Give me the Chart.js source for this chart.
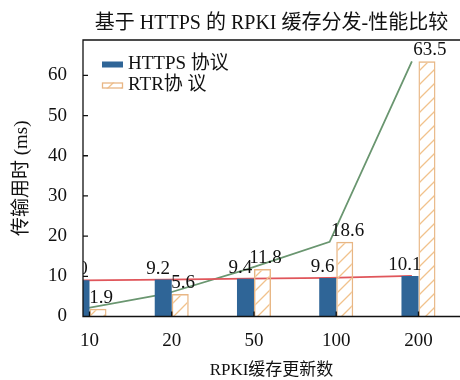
<!DOCTYPE html>
<html>
<head>
<meta charset="utf-8">
<script src="https://cdn.jsdelivr.net/npm/chart.js@4.4.1/dist/chart.umd.min.js"></script>
<style>
  html, body { margin: 0; padding: 0; background: #fff; }
  canvas { display: block; }
</style>
</head>
<body>
<canvas id="c" width="460" height="380"></canvas>
<script>
// Transfer time of RPKI cache updates, HTTPS vs RTR
const CATEGORIES = ['10', '20', '50', '100', '200'];
const HTTPS_MS = [9.0, 9.2, 9.4, 9.6, 10.1];
const RTR_MS = [1.9, 5.6, 11.8, 18.6, 63.5];
const Y_TICKS = [0, 10, 20, 30, 40, 50, 60];
const SERIES_NAMES = ['HTTPS 协议', 'RTR协 议'];

const FONT = "'Liberation Serif', 'Noto Sans CJK SC', serif";
const X_MIN = -0.079, X_MAX = 4.505, Y_MAX = 68.8;
const BAR_W = 17;
const BAR_HALF = 0.1034;          // half a bar width in category units: HTTPS left of the tick, RTR right
const LINE_SHIFT = 0.08;          // trend lines sit slightly left of the tick
const BLUE = '#2f6597';
const ORANGE = '#e8b684';
const RED = '#e0565b';
const GREEN = '#6a9670';

const canvas = document.getElementById('c');
const mainCtx = canvas.getContext('2d');

function makeHatch() {
  const s = 14;
  const tile = document.createElement('canvas');
  tile.width = s; tile.height = s;
  const g = tile.getContext('2d');
  g.strokeStyle = '#f1c28c';
  g.lineWidth = 1.3;
  g.beginPath();
  g.moveTo(0, s); g.lineTo(s, 0);
  g.moveTo(-2, 2); g.lineTo(2, -2);
  g.moveTo(s - 2, s + 2); g.lineTo(s + 2, s - 2);
  g.stroke();
  return mainCtx.createPattern(tile, 'repeat');
}
const HATCH = makeHatch();

const toPoints = arr => arr.map((v, i) => ({ x: i, y: v }));

// hidden index axis sharing the visible x range, moved by `shift` category units
const shiftedAxis = shift => ({
  type: 'linear',
  display: false,
  offset: false,
  min: X_MIN - shift,
  max: X_MAX - shift
});

// plot frame plus short inward tick marks
const frame = {
  id: 'frame',
  afterDraw(chart) {
    const { ctx, chartArea: a, scales } = chart;
    ctx.save();
    ctx.strokeStyle = '#111';
    ctx.lineWidth = 1.3;
    ctx.beginPath();
    ctx.moveTo(a.right + 2, a.top); ctx.lineTo(a.left, a.top);
    ctx.lineTo(a.left, a.bottom); ctx.lineTo(a.right + 2, a.bottom);
    Y_TICKS.forEach(v => {
      const y = scales.y.getPixelForValue(v);
      ctx.moveTo(a.left, y); ctx.lineTo(a.left + 5, y);
    });
    CATEGORIES.forEach((_, i) => {
      const x = scales.x.getPixelForValue(i);
      ctx.moveTo(x, a.bottom); ctx.lineTo(x, a.bottom - 5);
    });
    ctx.stroke();
    ctx.restore();
  }
};

// value labels above each bar
const valueLabels = {
  id: 'valueLabels',
  afterDatasetsDraw(chart) {
    const { ctx, chartArea: a } = chart;
    ctx.save();
    ctx.beginPath();
    ctx.rect(a.left, 0, a.right - a.left, chart.height);
    ctx.clip();
    ctx.font = '19px ' + FONT;
    ctx.fillStyle = '#111';
    ctx.textAlign = 'center';
    ctx.textBaseline = 'alphabetic';
    chart.data.datasets.forEach((ds, di) => {
      if (ds.type === 'line') return;
      const meta = chart.getDatasetMeta(di);
      meta.data.forEach((el, i) => {
        const v = ds.data[i].y;
        ctx.fillText(v.toFixed(1), el.x + ds.labelShift, el.y - 6);
      });
    });
    ctx.restore();
  }
};

// legend drawn inside the plot, upper left
const legendBox = {
  id: 'legendBox',
  afterDraw(chart) {
    const { ctx, chartArea: a } = chart;
    ctx.save();
    ctx.font = '19px ' + FONT;
    ctx.fillStyle = '#111';
    ctx.textBaseline = 'middle';
    ctx.textAlign = 'left';
    let row = 0;
    chart.data.datasets.forEach(ds => {
      if (ds.type === 'line') return;
      const cy = a.top + 24.5 + row * 21;
      const sx = a.left + 19;
      if (ds.borderWidth > 0) {
        ctx.fillStyle = '#fff';
        ctx.fillRect(sx, cy - 3, 21, 6);
        ctx.fillStyle = HATCH;
        ctx.fillRect(sx, cy - 3, 21, 6);
        ctx.strokeStyle = ds.borderColor;
        ctx.lineWidth = 1.3;
        ctx.strokeRect(sx + 0.5, cy - 2.5, 20, 5);
      } else {
        ctx.fillStyle = ds.backgroundColor;
        ctx.fillRect(sx, cy - 3, 21, 6);
      }
      ctx.fillStyle = '#111';
      ctx.fillText(ds.label, sx + 26, cy - 0.5);
      row++;
    });
    ctx.restore();
  }
};

new Chart(canvas, {
  type: 'bar',
  data: {
    datasets: [
      {
        label: SERIES_NAMES[0],
        data: toPoints(HTTPS_MS),
        xAxisID: 'xh',
        grouped: false,
        backgroundColor: BLUE,
        borderWidth: 0,
        maxBarThickness: BAR_W,
        clip: 0,
        order: 1,
        labelShift: -5
      },
      {
        label: SERIES_NAMES[1],
        data: toPoints(RTR_MS),
        xAxisID: 'xr',
        grouped: false,
        backgroundColor: HATCH,
        borderColor: ORANGE,
        borderWidth: 1.4,
        maxBarThickness: BAR_W,
        clip: 0,
        order: 1,
        labelShift: 3
      },
      {
        type: 'line',
        label: 'HTTPS',
        data: toPoints(HTTPS_MS),
        xAxisID: 'xl',
        borderColor: RED,
        borderWidth: 1.8,
        pointRadius: 0,
        tension: 0,
        fill: false,
        clip: 0,
        order: 2
      },
      {
        type: 'line',
        label: 'RTR',
        data: toPoints(RTR_MS),
        xAxisID: 'xl',
        borderColor: GREEN,
        borderWidth: 1.8,
        pointRadius: 0,
        tension: 0,
        fill: false,
        clip: 0,
        order: 2
      }
    ]
  },
  options: {
    responsive: false,
    animation: false,
    events: [],
    layout: { padding: 0 },
    plugins: {
      legend: { display: false },
      tooltip: { enabled: false },
      title: {
        display: true,
        fullSize: false,
        text: '基于 HTTPS 的 RPKI 缓存分发-性能比较',
        color: '#111',
        font: { family: FONT, size: 20, weight: 'normal', lineHeight: 1.2 },
        padding: { top: 12, bottom: 4 }
      }
    },
    scales: {
      x: {
        type: 'linear',
        offset: false,
        min: X_MIN,
        max: X_MAX,
        grid: { display: false, drawTicks: false, offset: false },
        border: { display: false },
        afterBuildTicks: s => { s.ticks = CATEGORIES.map((_, i) => ({ value: i })); },
        afterFit: s => { s.height = 63.5; },
        ticks: {
          autoSkip: false,
          maxRotation: 0,
          padding: 13,
          color: '#111',
          font: { family: FONT, size: 19 },
          callback: (v, i) => CATEGORIES[i]
        },
        title: {
          display: true,
          text: 'RPKI缓存更新数',
          color: '#111',
          font: { family: FONT, size: 17, lineHeight: 1 },
          padding: { top: 0, bottom: 1 }
        }
      },
      xh: shiftedAxis(-BAR_HALF),
      xr: shiftedAxis(BAR_HALF),
      xl: shiftedAxis(-LINE_SHIFT),
      y: {
        min: 0,
        max: Y_MAX,
        grid: { display: false, drawTicks: false },
        border: { display: false },
        afterBuildTicks: s => { s.ticks = Y_TICKS.map(v => ({ value: v })); },
        afterFit: s => { s.width = 83; },
        ticks: {
          padding: 16,
          color: '#111',
          font: { family: FONT, size: 19 }
        },
        title: {
          display: true,
          text: '传输用时 (ms)',
          color: '#111',
          font: { family: FONT, size: 19, lineHeight: 1.2 },
          padding: { top: 11, bottom: 0 }
        }
      }
    }
  },
  plugins: [frame, valueLabels, legendBox]
});
</script>
</body>
</html>
